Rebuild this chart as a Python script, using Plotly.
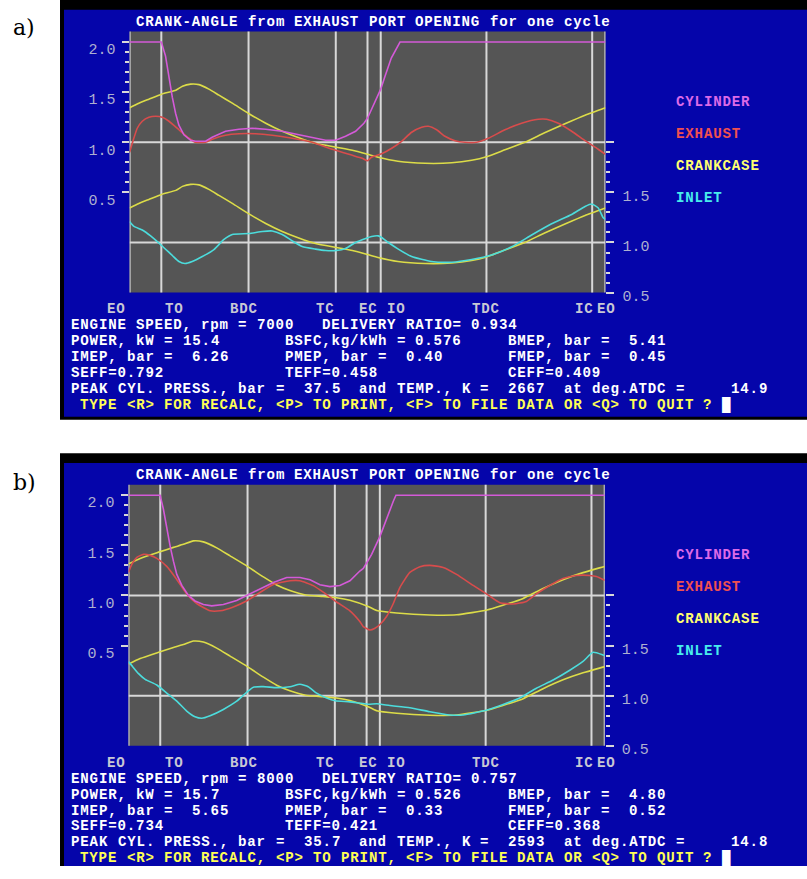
import plotly.graph_objects as go

FIG_W, FIG_H = 807, 879

# ---------------- data ----------------
event_deg = [0, 24, 90, 156, 180, 190, 270, 350, 360]
event_lbl = ["EO", "TO", "BDC", "TC", "EC", "IO", "TDC", "IC", "EO"]

left_tickvals = [0.5, 1.0, 1.5, 2.0]
left_ticktext = ["0.5", "1.0", "1.5", "2.0"]
right_tickvals = [0.5, 1.0, 1.5, 2.0]
right_ticktext = ["0.5", "1.0", "1.5", ""]
minor_vals = [0.6, 0.7, 0.8, 0.9, 1.1, 1.2, 1.3, 1.4, 1.6, 1.7, 1.8, 1.9]

legend_names = ["CYLINDER", "EXHAUST", "CRANKCASE", "INLET"]

# ---- panel a (7000 rpm) ----
a_cyl_deg = [0, 24, 27.2, 29.8, 32.3, 34.8, 37.3, 41.1, 46.2, 49.9, 57.5, 62.5, 72.6, 82.7, 92.8,
             102.9, 115.5, 128.1, 140.7, 148.3, 155.9, 163.4, 171, 177.3, 180, 183, 187, 190, 193,
             198, 204.6, 360]
a_cyl_val = [2.0, 2.0, 1.86, 1.63, 1.45, 1.29, 1.17, 1.075, 1.02, 1.01, 1.01, 1.05, 1.11, 1.13, 1.14,
             1.13, 1.11, 1.075, 1.04, 1.02, 1.02, 1.06, 1.11, 1.19, 1.24, 1.33, 1.45, 1.53, 1.65,
             1.84, 2.0, 2.0]

a_exh_deg = [0, 2.5, 5.8, 9.6, 14.6, 19.7, 24.7, 29.8, 37.3, 44.9, 49.9, 57.5, 62.5, 72.6, 82.7,
             95.3, 107.9, 123.1, 138.2, 153.3, 168.5, 176, 180, 183, 190.7, 198.3, 205.8, 213.4,
             221, 226, 232.3, 238.6, 246.2, 253.8, 262.6, 271.4, 284, 296.6, 309.2, 315.5, 324.4,
             334.5, 344.6, 354.6, 360]
a_exh_val = [0.90, 1.01, 1.14, 1.21, 1.25, 1.26, 1.25, 1.21, 1.125, 1.04, 1.0, 1.0, 1.03, 1.07, 1.085,
             1.085, 1.07, 1.04, 1.0, 0.93, 0.87, 0.84, 0.815, 0.85, 0.885, 0.94, 1.01, 1.10,
             1.15, 1.16, 1.125, 1.06, 1.016, 1.0, 1.0, 1.04, 1.125, 1.19, 1.23, 1.23, 1.19,
             1.11, 1.016, 0.93, 0.88]

a_cc_deg = [0, 7, 14.6, 24.2, 35, 40, 46.2, 52.5, 60, 67.6, 77.7, 90.3, 103, 115.5, 128, 140.7,
            156.4, 168.5, 180, 188, 203, 223.5, 243.7, 258.8, 270, 284, 299, 314, 329.4, 344.6, 360]
a_cc_val = [1.345, 1.39, 1.43, 1.48, 1.52, 1.56, 1.58, 1.575, 1.53, 1.47, 1.39, 1.285, 1.19, 1.11,
            1.045, 0.99, 0.95, 0.92, 0.88, 0.85, 0.81, 0.79, 0.795, 0.82, 0.855, 0.925, 1.0, 1.095,
            1.185, 1.27, 1.345]

a_inl_deg = [0, 3.3, 9.6, 15.9, 24.2, 32.3, 37.3, 41.9, 47.4, 55, 63.8, 71.4, 77.7, 90.3, 100.4,
             107.9, 115.5, 123.1, 130.6, 140.7, 148.3, 156.4, 163.4, 171, 178.6, 183.1, 188.2,
             190.7, 195.8, 203.3, 213.4, 228.5, 243.7, 258.8, 273.9, 289.1, 304.2, 319.3, 334.5,
             344.6, 349.6, 354.6, 358.4, 360]
a_inl_val = [1.21, 1.16, 1.125, 1.066, 0.97, 0.87, 0.81, 0.79, 0.81, 0.86, 0.93, 1.03, 1.08, 1.09,
             1.11, 1.115, 1.08, 1.016, 0.96, 0.934, 0.92, 0.92, 0.94, 1.0, 1.04, 1.06, 1.066,
             1.05, 1.0, 0.934, 0.86, 0.81, 0.803, 0.83, 0.875, 0.957, 1.075, 1.187, 1.28,
             1.36, 1.384, 1.344, 1.246, 1.23]

# ---- panel b (8000 rpm) ----
b_cyl_deg = [0, 23.9, 26.4, 28.9, 31.5, 34, 36.5, 40.3, 45.3, 50.3, 56.6, 62.9, 71.7, 81.8, 89.9,
             99.4, 109.5, 119.6, 129.6, 137.2, 144.7, 152.3, 159.8, 167.4, 174.9, 177.5, 181.2,
             183.8, 190.1, 195.1, 200.2, 202.2, 360]
b_cyl_val = [2.0, 2.0, 1.86, 1.67, 1.49, 1.34, 1.21, 1.1, 1.0, 0.945, 0.91, 0.896, 0.91, 0.95, 1.0,
             1.065, 1.13, 1.18, 1.18, 1.156, 1.107, 1.088, 1.1, 1.147, 1.244, 1.27, 1.35,
             1.41, 1.59, 1.77, 1.94, 2.0, 2.0]

b_exh_deg = [0, 2.5, 6.3, 11.3, 16.4, 21.4, 28.9, 36.5, 44, 51.6, 61.7, 69.2, 79.3, 89.9, 99.4,
             109.5, 122.1, 129.6, 139.7, 147.2, 157.3, 167.4, 174.9, 177.5, 182.5, 186, 190.1,
             195.1, 200.2, 205.2, 212.7, 220.3, 227.8, 237.9, 248, 260.6, 270.6, 280.7, 290.8,
             300.8, 308.4, 318.5, 328.5, 338.6, 348.7, 353.7, 358.7, 360]
b_exh_val = [1.23, 1.31, 1.38, 1.41, 1.40, 1.37, 1.29, 1.16, 1.016, 0.92, 0.847, 0.847, 0.886, 0.95,
             1.03, 1.11, 1.147, 1.147, 1.098, 1.033, 0.935, 0.847, 0.74, 0.69, 0.655, 0.67, 0.71,
             0.79, 0.92, 1.08, 1.23, 1.287, 1.30, 1.28, 1.21, 1.1, 1.016, 0.928, 0.915,
             0.94, 1.016, 1.1, 1.17, 1.2, 1.2, 1.19, 1.16, 1.15]

b_cc_deg = [0, 8.8, 23.4, 34, 41.5, 49, 56.6, 66.7, 76.8, 89.9, 102, 112, 122, 134, 147, 157.3,
            167.4, 181.2, 187.6, 202.7, 227.8, 248, 271, 283, 298, 313.4, 328.5, 343.6, 358.7, 360]
b_cc_val = [1.315, 1.37, 1.435, 1.48, 1.51, 1.545, 1.535, 1.475, 1.395, 1.29, 1.185, 1.105, 1.05,
            1.005, 0.99, 0.977, 0.952, 0.89, 0.85, 0.825, 0.805, 0.807, 0.855, 0.902, 0.968,
            1.07, 1.158, 1.228, 1.285, 1.29]

b_inl_deg = [0, 2.5, 7.6, 12.6, 21.4, 28.9, 36.5, 44, 50.3, 55.4, 61.7, 71.7, 81.8, 89.9, 94.4,
             101.9, 112, 122.1, 129.6, 135.9, 142.2, 149.8, 156.3, 167.4, 181.2, 187.6, 197.6,
             212.7, 227.8, 242.9, 253, 271.1, 283.2, 295.8, 308.4, 321, 333.6, 343.6, 351.2,
             358.7, 360]
b_inl_val = [1.34, 1.30, 1.22, 1.163, 1.107, 1.026, 0.945, 0.847, 0.79, 0.775, 0.8, 0.863, 0.945,
             1.04, 1.085, 1.09, 1.08, 1.09, 1.114, 1.09, 1.026, 0.977, 0.95, 0.938, 0.915, 0.919,
             0.902, 0.88, 0.84, 0.808, 0.808, 0.857, 0.912, 0.977, 1.075, 1.156, 1.254, 1.342,
             1.433, 1.407, 1.40]

a_rows = [
    ["ENGINE SPEED, rpm = 7000   DELIVERY RATIO= 0.934"],
    ["POWER, kW = 15.4", "BSFC,kg/kWh = 0.576", "BMEP, bar =  5.41"],
    ["IMEP, bar =  6.26", "PMEP, bar =  0.40", "FMEP, bar =  0.45"],
    ["SEFF=0.792", "TEFF=0.458", "CEFF=0.409"],
    ["PEAK CYL. PRESS., bar =  37.5  and TEMP., K =  2667  at deg.ATDC =     14.9"],
]
b_rows = [
    ["ENGINE SPEED, rpm = 8000   DELIVERY RATIO= 0.757"],
    ["POWER, kW = 15.7", "BSFC,kg/kWh = 0.526", "BMEP, bar =  4.80"],
    ["IMEP, bar =  5.65", "PMEP, bar =  0.33", "FMEP, bar =  0.52"],
    ["SEFF=0.734", "TEFF=0.421", "CEFF=0.368"],
    ["PEAK CYL. PRESS., bar =  35.7  and TEMP., K =  2593  at deg.ATDC =     14.8"],
]
prompt = " TYPE <R> FOR RECALC, <P> TO PRINT, <F> TO FILE DATA OR <Q> TO QUIT ?"
title = "CRANK-ANGLE from EXHAUST PORT OPENING for one cycle"

# ---------------- style / layout ----------------
BLUE = "#0505aa"
GRAY = "#555555"
GRID = "#d8d8d8"
C_CYL, C_EXH, C_CC, C_INL = "#d45ad8", "#d84c4c", "#dcdc48", "#4cdcdc"
L_CYL, L_EXH, L_CC, L_INL = "#dc6ae8", "#f05050", "#ffff70", "#48ecec"
MONO = "Liberation Mono"
FS = 14.1
CW, X0 = 9.3, 70.0          # text column width / origin (px)
RH, Y0 = 16.2, 22.5         # text row height / first row centre (px)
LS = CW - 0.6 * FS          # letter spacing so glyph advance == column width
col_starts = [0, 23, 47]
event_lbl_px = [116, 174.5, 243.5, 325, 368.5, 396, 485.5, 584, 606]

panels = [
    dict(off=0, xl=129.6, xr=605.4, rows=a_rows, xa="x", ya="y", ya2="y2",
         cyl=(a_cyl_deg, a_cyl_val), exh=(a_exh_deg, a_exh_val),
         cc=(a_cc_deg, a_cc_val), inl=(a_inl_deg, a_inl_val)),
    dict(off=460, xl=128.5, xr=604.7, rows=b_rows, xa="x2", ya="y3", ya2="y4",
         cyl=(b_cyl_deg, b_cyl_val), exh=(b_exh_deg, b_exh_val),
         cc=(b_cc_deg, b_cc_val), inl=(b_inl_deg, b_inl_val)),
]

fig = go.Figure()
shapes, annots = [], []


def px(x):
    return x / FIG_W


def py(y):
    return 1 - y / FIG_H


def text(x, y, s, color, anchor="left", size=FS, weight="bold", family=MONO, spaced=True):
    if spaced:
        s = "<span style='letter-spacing:%.2fpx'>%s</span>" % (LS, s)
    annots.append(dict(x=px(x), y=py(y), xref="paper", yref="paper", text=s, showarrow=False,
                       xanchor=anchor, yanchor="middle", borderpad=0,
                       font=dict(family=family, size=size, color=color, weight=weight)))


def grid_text(y, col, s, color):
    """place the words of s on the 80-column text grid"""
    c = col
    for word in s.split(" "):
        if word:
            text(X0 + CW * c, y, word, color)
        c += len(word) + 1


def row_y(p, r):
    return p["off"] + Y0 + RH * r


for i, p in enumerate(panels):
    off = p["off"]
    # screen frame + plot area
    shapes.append(dict(type="rect", xref="paper", yref="paper", x0=px(60), x1=1,
                       y0=py(min(off + 426, FIG_H)), y1=py(off), fillcolor="black",
                       line=dict(width=0), layer="below"))
    shapes.append(dict(type="rect", xref="paper", yref="paper", x0=px(64), x1=1,
                       y0=py(min(off + 423, FIG_H)), y1=py(off + 10), fillcolor=BLUE,
                       line=dict(width=0), layer="below"))
    shapes.append(dict(type="rect", xref="paper", yref="paper", x0=px(p["xl"]), x1=px(p["xr"]),
                       y0=py(off + 297), y1=py(off + 32), fillcolor=GRAY,
                       line=dict(width=0), layer="below"))
    xa, ya, ya2 = p["xa"], p["ya"], p["ya2"]
    # event lines
    for d in event_deg:
        shapes.append(dict(type="line", xref=xa, yref=ya + " domain", x0=d, x1=d, y0=0, y1=1,
                           line=dict(color=GRID, width=2), layer="below"))
    shapes.append(dict(type="line", xref=xa, yref=ya, x0=0, x1=360, y0=1.0, y1=1.0,
                       line=dict(color=GRID, width=2), layer="below"))
    shapes.append(dict(type="line", xref=xa, yref=ya2, x0=0, x1=360, y0=1.0, y1=1.0,
                       line=dict(color=GRID, width=2), layer="below"))

    def tr(data, color, yax, shape="spline"):
        fig.add_trace(go.Scatter(x=data[0], y=data[1], mode="lines", xaxis=xa, yaxis=yax,
                                 line=dict(color=color, width=1.6, shape=shape, smoothing=0.5),
                                 showlegend=False, hoverinfo="skip"))

    tr(p["cc"], C_CC, ya)
    tr(p["cc"], C_CC, ya2)
    tr(p["inl"], C_INL, ya2)
    tr(p["exh"], C_EXH, ya)
    tr(p["cyl"], C_CYL, ya, shape="linear")

    # texts
    grid_text(row_y(p, 0), 7, title, "white")
    for lbl, cx in zip(event_lbl, event_lbl_px):
        text(cx, row_y(p, 18), lbl, "#c8c8d4", anchor="center")
    for k, segs in enumerate(p["rows"]):
        for s, c in zip(segs, col_starts):
            grid_text(row_y(p, 19 + k), c, s, "white")
    grid_text(row_y(p, 24), 0, prompt, "#ffff55")
    text(X0 + CW * 70, row_y(p, 24), "\u2588", "white", spaced=False)
    for name, col, r in zip(legend_names, [L_CYL, L_EXH, L_CC, L_INL], [5, 7, 9, 11]):
        text(X0 + CW * 65, row_y(p, r), name, col)

# panel labels
text(12, 28, "a)", "black", size=22, weight="normal", family="DejaVu Serif", spaced=False)
text(12, 490, "b)", "black", size=22, weight="normal", family="DejaVu Serif", spaced=False)


def xaxis(p, ya):
    return dict(domain=[px(p["xl"]), px(p["xr"])], range=[0, 360], anchor=ya,
                showticklabels=False, ticks="", showgrid=False, zeroline=False, showline=False,
                fixedrange=True)


TICKFONT = dict(family=MONO, size=15, color="#aeb0d0")


def yleft(p, xa):
    off = p["off"]
    return dict(domain=[py(off + 297), py(off + 32)], range=[-0.5, 2.105], anchor=xa,
                tickmode="array", tickvals=left_tickvals, ticktext=left_ticktext,
                ticks="outside", ticklen=7, tickwidth=1.5, tickcolor=GRID,
                minor=dict(tickmode="array", tickvals=minor_vals, ticks="outside", ticklen=4,
                           tickwidth=1.5, tickcolor=GRID),
                showgrid=False, zeroline=False, showline=False,
                tickfont=TICKFONT, ticklabelshift=7, ticklabelstandoff=3)


def yright(p, xa, over):
    return dict(overlaying=over, side="right", anchor=xa, range=[0.5, 3.105],
                tickmode="array", tickvals=right_tickvals, ticktext=right_ticktext,
                ticks="outside", ticklen=8, tickwidth=1.5, tickcolor=GRID,
                minor=dict(tickmode="array", tickvals=minor_vals, ticks="outside", ticklen=4,
                           tickwidth=1.5, tickcolor=GRID),
                showgrid=False, zeroline=False, showline=False,
                tickfont=TICKFONT, ticklabelshift=3, ticklabelstandoff=5)


pa, pb = panels
fig.update_layout(
    width=FIG_W, height=FIG_H, margin=dict(l=0, r=0, t=0, b=0),
    paper_bgcolor="white", plot_bgcolor="rgba(0,0,0,0)", showlegend=False,
    xaxis=xaxis(pa, "y"), yaxis=yleft(pa, "x"), yaxis2=yright(pa, "x", "y"),
    xaxis2=xaxis(pb, "y3"), yaxis3=yleft(pb, "x2"), yaxis4=yright(pb, "x2", "y3"),
    shapes=shapes, annotations=annots,
)

fig.write_html("out.html", config={"displayModeBar": False},
               post_script="document.body.style.margin='0px';"
                           "document.body.style.padding='0px';"
                           "document.documentElement.style.overflow='hidden';")
